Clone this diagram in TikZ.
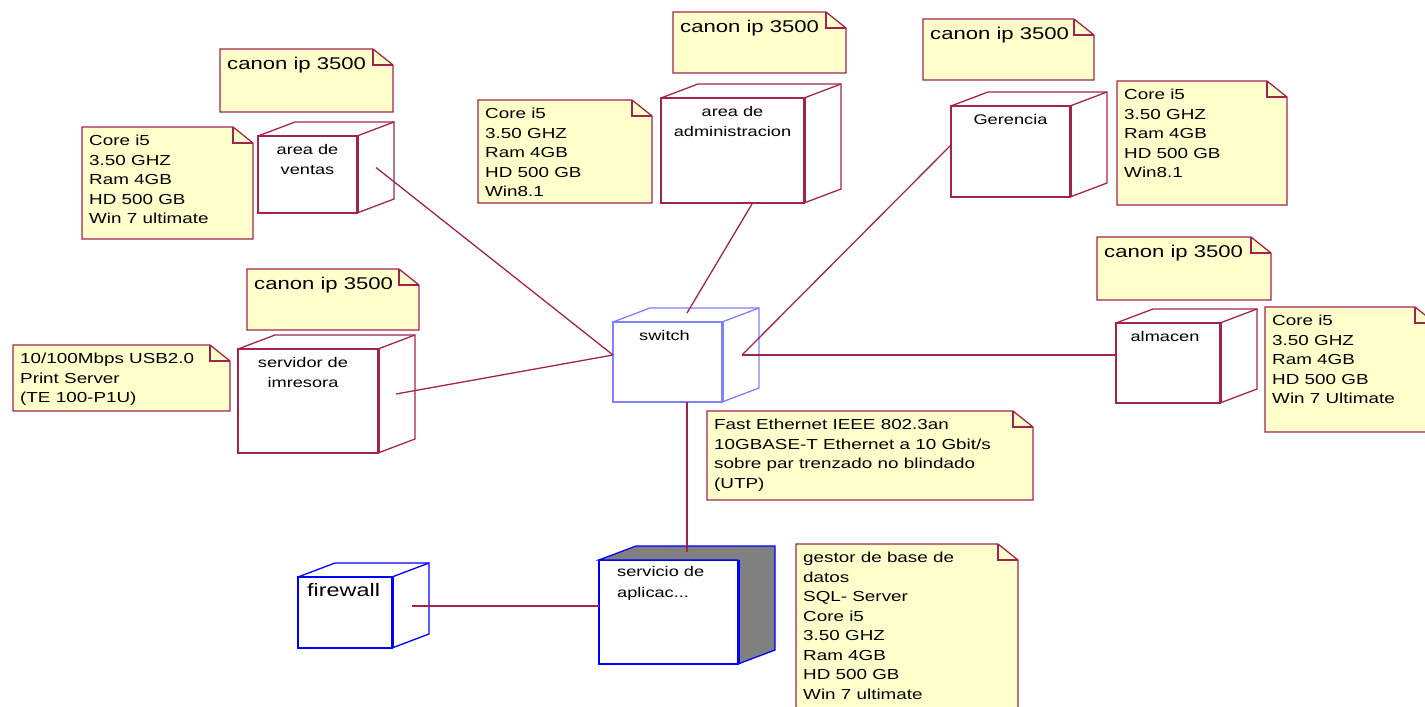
\documentclass[tikz,border=0pt]{standalone}
\usepackage{fontspec}
\setmainfont{Liberation Sans}[FakeStretch=1.3]
\usepackage{tikz}
\definecolor{RoseRed}{HTML}{A3234F}
\definecolor{RoseNote}{HTML}{FFFFCC}
\definecolor{RoseBlue}{HTML}{0000FF}
\definecolor{RoseLilac}{HTML}{8080FF}
\definecolor{RoseGrey}{HTML}{808080}
\tikzset{
  link/.style={draw=RoseRed,line width=1.3pt},
  device/.style={draw=RoseRed,fill=white,line width=1.3pt,rectangle,
    anchor=north west,inner sep=0pt,outer sep=0pt},
  devtext/.style={anchor=north,align=center,inner sep=0pt,
    font=\fontsize{14}{20}\selectfont,yshift=-8pt},
  note/.style={fill=RoseNote,rectangle,anchor=north west,inner sep=0pt,outer sep=0pt},
  notetext/.style={anchor=north west,align=left,inner sep=0pt,
    font=\fontsize{14.5}{19.5}\selectfont,xshift=7pt,yshift=-8pt},
  canontext/.style={notetext,font=\fontsize{17}{20}\selectfont},
  notedraw/.style={draw=RoseRed,line width=1.3pt}
}

\begin{document}
\begin{tikzpicture}[x=1pt,y=-1pt]
  \clip (0,0) rectangle (1425,707);
  % devices
  \node[device,minimum width=99pt,minimum height=77pt,
    label={[devtext]north:{area de\\ventas}}] (ventas) at (258,136) {};
  \node[device,minimum width=143pt,minimum height=105pt,
    label={[devtext]north:{area de\\administracion}}] (admin) at (661,98) {};
  \node[device,minimum width=119pt,minimum height=91pt,
    label={[devtext]north:{Gerencia}}] (gerencia) at (951,106) {};
  \node[device,minimum width=140pt,minimum height=104pt,
    label={[devtext,xshift=-5pt]north:{servidor de\\imresora}}] (servidor) at (238,349) {};
  \node[device,draw=RoseLilac,minimum width=109pt,minimum height=80pt,
    label={[devtext,xshift=-3pt]north:{switch}}] (switch) at (613,322) {};
  \node[device,minimum width=104pt,minimum height=80pt,
    label={[devtext,xshift=-3pt]north:{almacen}}] (almacen) at (1116,323) {};
  \node[device,draw=RoseBlue,minimum width=94pt,minimum height=71pt,
    label={[devtext,anchor=north west,align=left,xshift=9pt,yshift=2pt,
      font=\fontsize{18}{20}\selectfont]north west:{firewall}}] (firewall) at (298,577) {};
  \node[device,draw=RoseBlue,minimum width=139pt,minimum height=104pt,
    label={[devtext,anchor=north west,align=left,xshift=18pt,yshift=2pt,
      font=\fontsize{14}{21}\selectfont]north west:{servicio de\\aplicac...}}] (servicio) at (599,560) {};

  % depth of the boxes
  \foreach \dev/\col in {ventas/RoseRed,admin/RoseRed,gerencia/RoseRed,servidor/RoseRed,
      switch/RoseLilac,almacen/RoseRed,firewall/RoseBlue}{
    \draw[draw=\col,line width=1.3pt] (\dev.north west) -- ([shift={(37,-14)}]\dev.north west)
      -- ([shift={(37,-14)}]\dev.north east) -- ([shift={(37,-14)}]\dev.south east) -- (\dev.south east);
    \draw[draw=\col,line width=1.3pt] ([shift={(37,-14)}]\dev.north east) -- (\dev.north east);
    \draw[draw=\col,line width=3pt] (\dev.north east) -- (\dev.south east);
  }
  \filldraw[fill=RoseGrey,draw=RoseBlue,line width=1.3pt] (servicio.north west)
    -- ([shift={(37,-14)}]servicio.north west) -- ([shift={(37,-14)}]servicio.north east)
    -- ([shift={(37,-14)}]servicio.south east) -- (servicio.south east) -- (servicio.north east) -- cycle;
  \draw[RoseBlue,line width=3pt] (servicio.north east) -- (servicio.south east);

  % notes
  \node[note,minimum width=173pt,minimum height=63pt,
    label={[canontext]north west:{canon ip 3500}}] (ventasprn) at (220,49) {};
  \node[note,minimum width=171pt,minimum height=112pt,
    label={[notetext]north west:{Core i5\\3.50 GHZ\\Ram 4GB\\HD 500 GB\\Win 7 ultimate}}] (ventaspc) at (82,127) {};
  \node[note,minimum width=173pt,minimum height=61pt,
    label={[canontext]north west:{canon ip 3500}}] (adminprn) at (673,12) {};
  \node[note,minimum width=174pt,minimum height=103pt,
    label={[notetext]north west:{Core i5\\3.50 GHZ\\Ram 4GB\\HD 500 GB\\Win8.1}}] (adminpc) at (478,100) {};
  \node[note,minimum width=171pt,minimum height=61pt,
    label={[canontext]north west:{canon ip 3500}}] (gerenciaprn) at (923,19) {};
  \node[note,minimum width=170pt,minimum height=124pt,
    label={[notetext]north west:{Core i5\\3.50 GHZ\\Ram 4GB\\HD 500 GB\\Win8.1}}] (gerenciapc) at (1117,81) {};
  \node[note,minimum width=172pt,minimum height=61pt,
    label={[canontext]north west:{canon ip 3500}}] (servidorprn) at (247,269) {};
  \node[note,minimum width=217pt,minimum height=66pt,
    label={[notetext]north west:{10/100Mbps USB2.0\\Print Server\\(TE 100-P1U)}}] (servidorinfo) at (13,345) {};
  \node[note,minimum width=326pt,minimum height=89pt,
    label={[notetext]north west:{Fast Ethernet IEEE 802.3an\\10GBASE-T Ethernet a 10 Gbit/s\\sobre par trenzado no blindado\\(UTP)}}] (switchnote) at (707,411) {};
  \node[note,minimum width=174pt,minimum height=63pt,
    label={[canontext]north west:{canon ip 3500}}] (almacenprn) at (1097,237) {};
  \node[note,minimum width=170pt,minimum height=125pt,
    label={[notetext]north west:{Core i5\\3.50 GHZ\\Ram 4GB\\HD 500 GB\\Win 7 Ultimate}}] (almacenpc) at (1265,307) {};
  \node[note,minimum width=222pt,minimum height=175pt,
    label={[notetext]north west:{gestor de base de\\datos\\SQL- Server\\Core i5\\3.50 GHZ\\Ram 4GB\\HD 500 GB\\Win 7 ultimate}}] (servicionote) at (796,544) {};

  % folded corners
  \foreach \nt in {ventasprn,ventaspc,adminprn,adminpc,gerenciaprn,gerenciapc,servidorprn,
      servidorinfo,switchnote,almacenprn,almacenpc,servicionote}{
    \fill[white] ([xshift=-20pt]\nt.north east) -- (\nt.north east) -- ([yshift=-16pt]\nt.north east) -- cycle;
    \draw[notedraw] (\nt.north west) -- ([xshift=-20pt]\nt.north east) -- ([yshift=-16pt]\nt.north east)
      -- (\nt.south east) -- (\nt.south west) -- cycle;
    \draw[notedraw] ([xshift=-20pt]\nt.north east) |- ([yshift=-16pt]\nt.north east);
  }

  % links
  \draw[link] ([shift={(19,-7)}]ventas.east) -- ([shift={(0,-7)}]switch.west);
  \draw[link] ([shift={(19.5,1)}]admin.south) -- ([shift={(19.5,-9)}]switch.north);
  \draw[link] ([shift={(0,-6.5)}]gerencia.west) -- ([shift={(20,-7)}]switch.east);
  \draw[link] ([shift={(20,-7)}]switch.east) -- ([shift={(0,-8)}]almacen.west);
  \draw[link] ([shift={(18,-7)}]servidor.east) -- ([shift={(0,-7)}]switch.west);
  \draw[link] ([shift={(19.5,0)}]switch.south) -- ([shift={(18.5,-8)}]servicio.north);
  \draw[link] ([shift={(20,-6.5)}]firewall.east) -- ([shift={(0,-6)}]servicio.west);
\end{tikzpicture}
\end{document}
